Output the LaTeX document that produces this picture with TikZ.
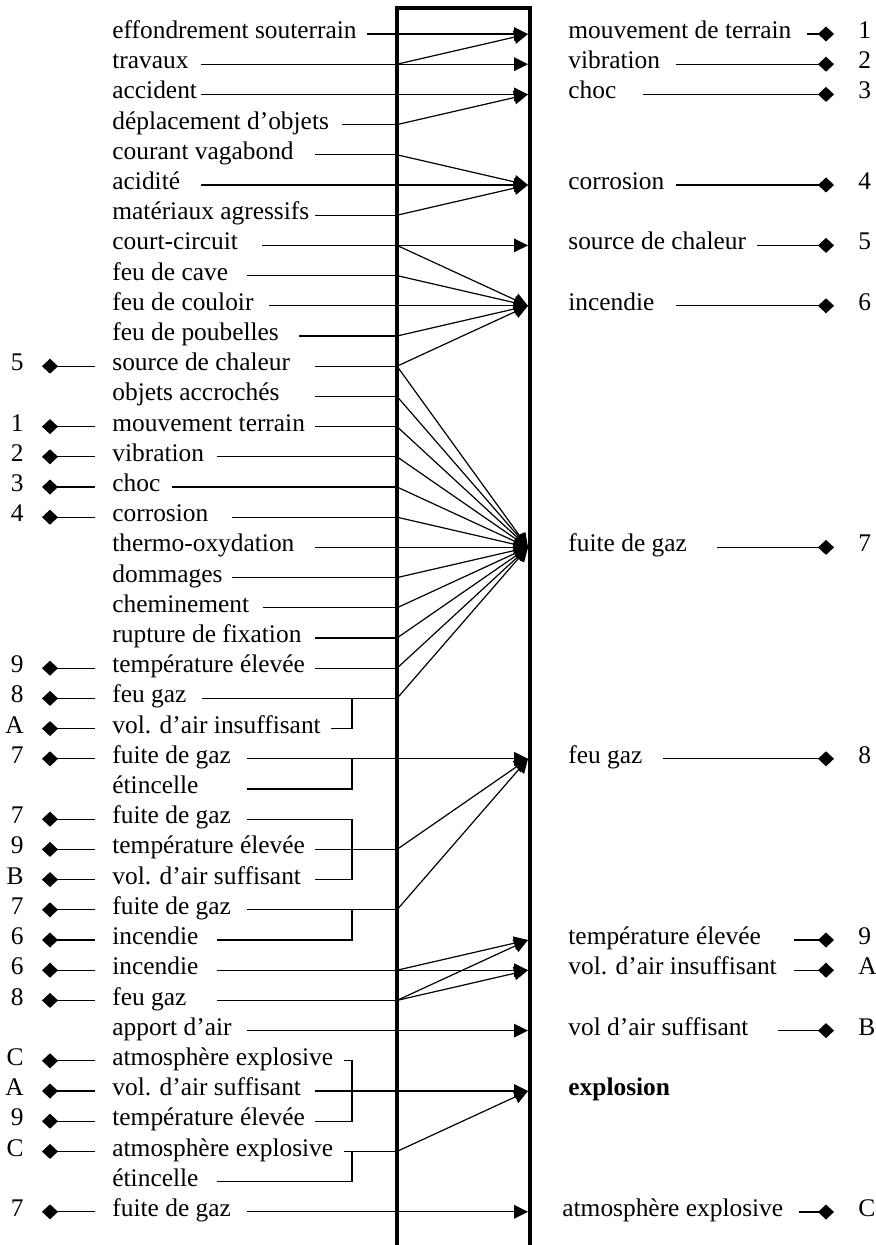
\documentclass[tikz,border=0pt]{standalone}
\usepackage{fontspec}
\setmainfont{Liberation Serif}
\usetikzlibrary{arrows.meta}

\begin{document}
\begin{tikzpicture}[x=0.5pt,y=-0.5pt,
    every node/.style={font=\fontsize{12.7}{14}\selectfont, inner sep=0pt},
    lab/.style={anchor=mid west},
    ln/.style={line width=0.6pt},
    arr/.style={ln, -{Triangle[length=7pt,width=6.8pt]}},
    dia/.style={ln, -{Diamond[length=8pt,width=7.5pt]}, shorten >=12pt},
    ldia/.style={ln, {Diamond[length=8pt,width=7.5pt]}-, shorten <=9pt, shorten >=8.5pt},
    wall/.style={line width=2.2pt}]
    \useasboundingbox (0,0) rectangle (875,1245);

    % the column
    \draw[wall] (397,1245) -- (397,8) -- (530,8) -- (530,1245);

    % causes on the left
    \foreach \i/\t/\s in {0/effondrement souterrain/366, 1/travaux/200, 2/accident/200,
        3/déplacement d’objets/341, 4/courant vagabond/314, 5/acidité/200,
        6/matériaux agressifs/314, 7/court-circuit/261, 8/feu de cave/246,
        9/feu de couloir/268, 10/feu de poubelles/298, 11/source de chaleur/314,
        12/objets accrochés/314, 13/mouvement terrain/314, 14/vibration/216,
        15/choc/171, 16/corrosion/231, 17/thermo-oxydation/314, 18/dommages/231,
        19/cheminement/262, 20/rupture de fixation/314, 21/température élevée/314,
        22/feu gaz/201, 23/vol. d’air insuffisant/330, 24/fuite de gaz/246,
        25/étincelle/246, 26/fuite de gaz/246, 27/température élevée/314,
        28/vol. d’air suffisant/314, 29/fuite de gaz/246, 30/incendie/216,
        31/incendie/216, 32/feu gaz/216, 33/apport d’air/246,
        34/atmosphère explosive/343, 35/vol. d’air suffisant/314,
        36/température élevée/314, 37/atmosphère explosive/343,
        38/étincelle/216, 39/fuite de gaz/246} {
        \pgfmathsetmacro\yy{34+30.2*\i}
        \pgfmathsetmacro\tw{(\s-112)*0.5}
        \node[lab] (l\i) at (112,\yy) {\makebox[\tw pt][l]{\t}};
        \coordinate (b\i) at (397,\yy);
        \coordinate (t\i) at (528,\yy);
    }

    % back references on the left
    \foreach \i/\n in {11/5, 13/1, 14/2, 15/3, 16/4, 21/9, 22/8, 23/A, 24/7, 26/7, 27/9,
        28/B, 29/7, 30/6, 31/6, 32/8, 34/C, 35/A, 36/9, 37/C, 39/7} {
        \pgfmathsetmacro\yy{34+30.2*\i}
        \node[anchor=mid east] (n\i) at (24,\yy) {\n};
        \draw[ldia] (n\i.mid east) -- (l\i.mid west);
    }

    % effects on the right
    \foreach \k/\t/\s/\n in {0/mouvement de terrain/806/1, 1/vibration/675/2, 2/choc/642/3,
        5/corrosion/675/4, 7/source de chaleur/756/5, 9/incendie/675/6,
        17/fuite de gaz/716/7, 24/feu gaz/662/8, 30/température élevée/793/9,
        31/vol. d’air insuffisant/793/A, 33/vol d’air suffisant/777/B} {
        \pgfmathsetmacro\yy{34+30.2*\k}
        \pgfmathsetmacro\tw{(\s-568)*0.5}
        \node[lab] (r\k) at (568,\yy) {\makebox[\tw pt][l]{\t}};
        \node[anchor=mid west] (m\k) at (858,\yy) {\n};
        \draw[dia] (r\k.mid east) -- (m\k.mid west);
    }
    \node[lab] (r35) at (568,1091) {\bfseries explosion};
    \node[lab] (r39) at (562,1212) {\makebox[118pt][l]{atmosphère explosive}};
    \node[anchor=mid west] (m39) at (858,1212) {C};
    \draw[dia] (r39.mid east) -- (m39.mid west);

    % straight links
    \foreach \i in {0,1,2,5,7,9,17,24,31,33,35,39}
        \draw[arr] (l\i.mid east) -- (t\i);

    % links that bend at the column
    \foreach \i in {3,4,6,8,10,11,12,13,14,15,16,18,19,20,21,22,27,29,32,37}
        \draw[ln] (l\i.mid east) -- (b\i);
    \foreach \i/\k in {1/0, 3/2, 4/5, 6/5, 7/9, 8/9, 10/9, 11/9, 11/17, 12/17, 13/17,
        14/17, 15/17, 16/17, 18/17, 19/17, 20/17, 21/17, 22/17, 27/24, 29/24,
        31/30, 32/30, 32/31, 37/35}
        \draw[arr] (b\i) -- (t\k);

    % brackets
    \coordinate (kx) at (352,0);
    \draw[ln] (l23.mid east) -| (l22.mid east -| kx);
    \draw[ln] (l25.mid east) -| (l24.mid east -| kx);
    \draw[ln] (l26.mid east) -| (l28.mid east -| kx) -- (l28.mid east);
    \draw[ln] (l30.mid east) -| (l29.mid east -| kx);
    \draw[ln] (l34.mid east) -| (l36.mid east -| kx) -- (l36.mid east);
    \draw[ln] (l38.mid east) -| (l37.mid east -| kx);
\end{tikzpicture}
\end{document}
